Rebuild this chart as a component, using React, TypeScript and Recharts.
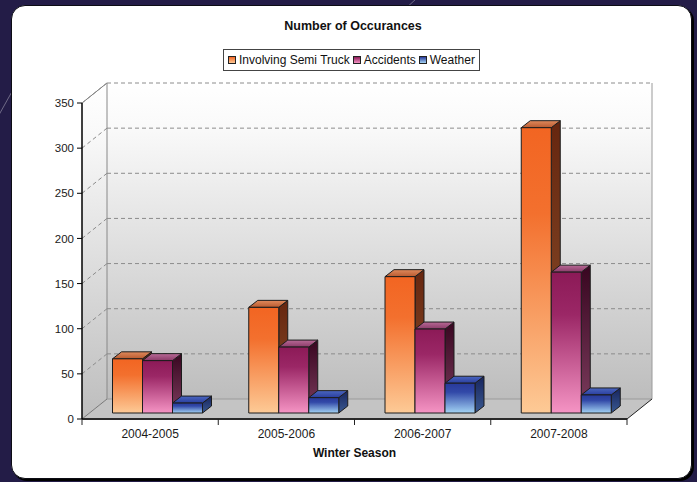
import React from 'react';
import { BarChart, Bar, XAxis, YAxis, CartesianGrid, Legend, ReferenceArea } from 'recharts';

const seasons = ['2004-2005', '2005-2006', '2006-2007', '2007-2008'];
const semiTruck = [60, 117, 151, 316];
const accidents = [58, 73, 93, 156];
const weather = [11, 17, 33, 20];
const yTicks = [0, 50, 100, 150, 200, 250, 300, 350];

const data = seasons.map((season, i) => ({
  season,
  semiTruck: semiTruck[i],
  accidents: accidents[i],
  weather: weather[i],
}));

const FONT = '"Liberation Sans", Arial, sans-serif';

// depth of the box the bars stand in, and of the bars themselves
const WALL_DX = 25;
const WALL_DY = 20;
const BAR_DX = 9;
const BAR_DY = 7;
// bars stand in the middle of the floor, not on its front edge
const BAR_SHIFT_X = 7.5;
const BAR_SHIFT_Y = 6;

const series = [
  {
    key: 'semiTruck',
    name: 'Involving Semi Truck',
    front: ['#f26522', '#f3702e', '#fdca96'],
    side: ['#66260f', '#8d522e'],
    top: ['#b85a30', '#e08a5c'],
  },
  {
    key: 'accidents',
    name: 'Accidents',
    front: ['#8c1a57', '#9b2766', '#f594c4'],
    side: ['#380620', '#7d3d5e'],
    top: ['#8a3a68', '#b86a96'],
  },
  {
    key: 'weather',
    name: 'Weather',
    front: ['#28399a', '#3249a8', '#a3d3f4'],
    side: ['#17245e', '#3a5990'],
    top: ['#2a3e9e', '#4a66c0'],
  },
];

const Bar3D = (props: any) => {
  const { x, y, width, height, id } = props;
  if (width == null || height == null) return null;
  const fx = x + BAR_SHIFT_X;
  const fy = y - BAR_SHIFT_Y;
  const r = fx + width;
  const b = fy + height;
  return (
    <g stroke="#1c1c1c" strokeWidth={1} strokeLinejoin="round">
      <polygon
        points={`${r},${fy} ${r + BAR_DX},${fy - BAR_DY} ${r + BAR_DX},${b - BAR_DY} ${r},${b}`}
        fill={`url(#${id}-side)`}
      />
      <polygon
        points={`${fx},${fy} ${fx + BAR_DX},${fy - BAR_DY} ${r + BAR_DX},${fy - BAR_DY} ${r},${fy}`}
        fill={`url(#${id}-top)`}
      />
      <rect x={fx} y={fy} width={width} height={height} fill={`url(#${id}-front)`} />
    </g>
  );
};

// back wall, left wall and floor of the 3D box
const WallsAndFloor = (props: any) => {
  const { x, y, width, height } = props;
  const b = y + height;
  const r = x + width;
  return (
    <g>
      <polygon
        points={`${x},${y} ${x + WALL_DX},${y - WALL_DY} ${x + WALL_DX},${b - WALL_DY} ${x},${b}`}
        fill="url(#wall)"
      />
      <rect x={x + WALL_DX} y={y - WALL_DY} width={width} height={height} fill="url(#wall)" />
      <polygon
        points={`${x},${b} ${x + WALL_DX},${b - WALL_DY} ${r + WALL_DX},${b - WALL_DY} ${r},${b}`}
        fill="#c4c4c4"
      />
      <line x1={x} y1={y} x2={x + WALL_DX} y2={y - WALL_DY} stroke="#7a7a7a" />
      <line x1={x + WALL_DX} y1={y - WALL_DY} x2={x + WALL_DX} y2={b - WALL_DY} stroke="#888" />
      <line x1={r + WALL_DX} y1={y - WALL_DY} x2={r + WALL_DX} y2={b - WALL_DY} stroke="#9a9a9a" />
      <line x1={x} y1={b} x2={x + WALL_DX} y2={b - WALL_DY} stroke="#777" />
      <line x1={x + WALL_DX} y1={b - WALL_DY} x2={r + WALL_DX} y2={b - WALL_DY} stroke="#9a9a9a" />
      <line x1={r} y1={b} x2={r + WALL_DX} y2={b - WALL_DY} stroke="#222" />
    </g>
  );
};

// dashed line on the back wall plus its diagonal across the left wall
const renderGridLine = (props: any) => {
  const { x1, x2, y1, index } = props;
  return (
    <g key={`grid-${index}`} stroke="#8c8c8c" strokeDasharray="4 3">
      <line x1={x1} y1={y1} x2={x1 + WALL_DX} y2={y1 - WALL_DY} />
      <line x1={x1 + WALL_DX} y1={y1 - WALL_DY} x2={x2 + WALL_DX} y2={y1 - WALL_DY} />
    </g>
  );
};

const SeasonTick = (props: any) => {
  const { x, y, payload, index } = props;
  const half = payload?.offset ?? 0;
  return (
    <g>
      <line x1={x - half} y1={y} x2={x - half} y2={y + 6} stroke="#222" />
      {index === seasons.length - 1 && (
        <line x1={x + half} y1={y} x2={x + half} y2={y + 6} stroke="#222" />
      )}
      <text x={x} y={y + 18.5} textAnchor="middle" fontSize={12} fill="#1a1a1a" fontFamily={FONT}>
        {payload.value}
      </text>
    </g>
  );
};

const LegendBox = () => (
  <div
    style={{
      display: 'inline-flex',
      alignItems: 'center',
      border: '1px solid #444',
      background: '#fff',
      padding: '0 4px',
      height: 20,
      fontFamily: FONT,
      fontSize: 12,
      color: '#111',
      whiteSpace: 'nowrap',
    }}
  >
    {series.map((s, i) => (
      <span key={s.key} style={{ display: 'flex', alignItems: 'center', marginRight: i < series.length - 1 ? 3 : 0 }}>
        <span
          style={{
            width: 6,
            height: 6,
            border: '1px solid #222',
            background: `linear-gradient(to bottom, ${s.front[0]}, ${s.front[2]})`,
            marginRight: 3,
          }}
        />
        {s.name}
      </span>
    ))}
  </div>
);

export default function App() {
  return (
    <div style={{ position: 'fixed', left: 0, top: 0, width: 697, height: 482, background: '#231c47', overflow: 'hidden' }}>
      <svg width={697} height={482} style={{ position: 'absolute', left: 0, top: 0 }}>
        <line x1={-5} y1={122} x2={14} y2={88} stroke="rgba(255,255,255,0.35)" />
        <line x1={403} y1={11} x2={417} y2={-2} stroke="rgba(255,255,255,0.35)" />
      </svg>
      <div
        style={{
          position: 'absolute',
          left: 11,
          top: 5,
          width: 679,
          height: 472,
          background: '#fff',
          borderRadius: 14,
          border: '1px solid #0c0c14',
          boxShadow: '2px 2px 0 #000',
        }}
      />
      <div
        style={{
          position: 'absolute',
          left: 253,
          top: 20,
          width: 200,
          textAlign: 'center',
          fontFamily: FONT,
          fontWeight: 'bold',
          fontSize: 12.5,
          lineHeight: '12.5px',
          color: '#111',
        }}
      >
        Number of Occurances
      </div>
      <div style={{ position: 'absolute', left: 0, top: 0 }}>
        <BarChart
          width={697}
          height={482}
          data={data}
          barGap={0}
          margin={{ top: 103, right: 70, bottom: 23, left: 22 }}
        >
          <defs>
            <linearGradient id="wall" x1="0" y1="0" x2="0" y2="1">
              <stop offset="0" stopColor="#ffffff" />
              <stop offset="0.15" stopColor="#f9f9f9" />
              <stop offset="1" stopColor="#bdbdbd" />
            </linearGradient>
            {series.map((s) => (
              <React.Fragment key={s.key}>
                <linearGradient id={`${s.key}-front`} x1="0" y1="0" x2="0" y2="1">
                  <stop offset="0" stopColor={s.front[0]} />
                  <stop offset="0.3" stopColor={s.front[1]} />
                  <stop offset="1" stopColor={s.front[2]} />
                </linearGradient>
                <linearGradient id={`${s.key}-side`} x1="0" y1="0" x2="0" y2="1">
                  <stop offset="0" stopColor={s.side[0]} />
                  <stop offset="1" stopColor={s.side[1]} />
                </linearGradient>
                <linearGradient id={`${s.key}-top`} x1="0" y1="1" x2="0" y2="0">
                  <stop offset="0" stopColor={s.top[0]} />
                  <stop offset="1" stopColor={s.top[1]} />
                </linearGradient>
              </React.Fragment>
            ))}
          </defs>
          <ReferenceArea
            y1={yTicks[0]}
            y2={yTicks[yTicks.length - 1]}
            shape={WallsAndFloor}
            ifOverflow="visible"
            zIndex={-200}
          />
          <CartesianGrid
            vertical={false}
            horizontal={renderGridLine}
            horizontalValues={yTicks.filter((v) => v > 0)}
          />
          <XAxis
            dataKey="season"
            height={40}
            interval={0}
            tickLine={false}
            tickSize={0}
            tickMargin={0}
            axisLine={{ stroke: '#2a2a2a', strokeWidth: 2 }}
            tick={<SeasonTick />}
            label={{
              value: 'Winter Season',
              position: 'insideBottom',
              offset: 2,
              fontSize: 12,
              fontWeight: 'bold',
              fill: '#111',
              fontFamily: FONT,
            }}
          />
          <YAxis
            type="number"
            domain={[yTicks[0], yTicks[yTicks.length - 1]]}
            ticks={yTicks}
            interval={0}
            width={60}
            tickSize={5}
            tickMargin={3}
            axisLine={{ stroke: '#000', strokeWidth: 1.5 }}
            tickLine={{ stroke: '#000' }}
            tick={{ fontSize: 11.5, fill: '#1a1a1a', fontFamily: FONT }}
          />
          <Legend
            verticalAlign="middle"
            align="center"
            content={<LegendBox />}
            wrapperStyle={{ left: 223, top: 49, width: 'auto', height: 'auto' }}
          />
          {series.map((s) => (
            <Bar
              key={s.key}
              dataKey={s.key}
              name={s.name}
              fill={s.front[0]}
              barSize={30}
              isAnimationActive={false}
              shape={(p: any) => <Bar3D {...p} id={s.key} />}
            />
          ))}
        </BarChart>
      </div>
    </div>
  );
}
